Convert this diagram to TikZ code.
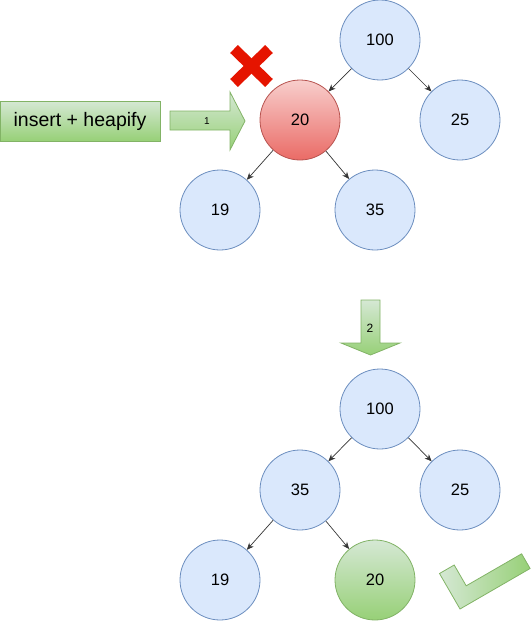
\documentclass[tikz,border=0pt]{standalone}
\usepackage{fontspec}
\setmainfont{Liberation Sans}
\usetikzlibrary{arrows.meta}
\definecolor{nodeblue}{HTML}{DAE8FC}
\definecolor{lineblue}{HTML}{6C8EBF}
\definecolor{redtop}{HTML}{F8CECC}
\definecolor{redbot}{HTML}{EA6B66}
\definecolor{linered}{HTML}{B85450}
\definecolor{greentop}{HTML}{D5E8D4}
\definecolor{greenbot}{HTML}{97D077}
\definecolor{linegreen}{HTML}{82B366}
\definecolor{markred}{HTML}{E51400}

\begin{document}
\begin{tikzpicture}[x=1pt,y=-1pt,
  heapnode/.style={circle,draw=lineblue,fill=nodeblue,line width=0.8pt,
    minimum size=80pt,inner sep=0pt,font=\fontsize{16.5}{19}\selectfont},
  badnode/.style={heapnode,draw=linered,top color=redtop,bottom color=redbot},
  goodnode/.style={heapnode,draw=linegreen,top color=greentop,bottom color=greenbot},
  link/.style={-{Stealth[length=7pt,width=6pt]},draw=black!80,line width=0.7pt},
  greenshape/.style={draw=linegreen,line width=0.8pt,top color=greentop,bottom color=greenbot}]
  \useasboundingbox (0,0) rectangle (532,621);

  % before: 20 inserted below 100
  \node[heapnode] (t100) at (380,40)  {100};
  \node[badnode]  (t20)  at (300,120) {20};
  \node[heapnode] (t25)  at (460,120) {25};
  \node[heapnode] (t19)  at (220,210) {19};
  \node[heapnode] (t35)  at (375,210) {35};
  \draw[link] (t100) -- (t20);
  \draw[link] (t100) -- (t25);
  \draw[link] (t20) -- (t19);
  \draw[link] (t20) -- (t35);

  % red cross
  \draw[markred,line width=11pt] (234,49) -- (269,83);
  \draw[markred,line width=11pt] (269,49) -- (234,83);

  % task box and step arrows
  \node[greenshape,minimum width=160pt,minimum height=40pt,inner sep=0pt,
    font=\fontsize{19.5}{22}\selectfont] (task) at (80,121) {insert + heapify};
  \path[greenshape] (170,111) -- (230,111) -- (230,92) -- (245,121)
    -- (230,150) -- (230,130) -- (170,130) -- cycle;
  \node[font=\fontsize{10}{12}\selectfont] (step1) at (207,121) {1};
  \path[greenshape] (361,300) -- (380,300) -- (380,343) -- (400,343)
    -- (370.5,355) -- (341,343) -- (361,343) -- cycle;
  \node[font=\fontsize{12}{14}\selectfont] (step2) at (370,328) {2};

  % after: 20 swapped with 35
  \node[heapnode] (b100) at (380,409) {100};
  \node[heapnode] (b35)  at (300,490) {35};
  \node[heapnode] (b25)  at (460,490) {25};
  \node[heapnode] (b19)  at (220,580) {19};
  \node[goodnode] (b20)  at (375,580) {20};
  \draw[link] (b100) -- (b35);
  \draw[link] (b100) -- (b25);
  \draw[link] (b35) -- (b19);
  \draw[link] (b35) -- (b20);

  % green check
  \path[draw=linegreen,line width=0.8pt,left color=greentop,right color=greenbot]
    (460,609) -- (530.1,568.5) -- (521.6,553.8) -- (466.2,585.8)
    -- (454.2,565) -- (439.5,573.5) -- cycle;
\end{tikzpicture}
\end{document}
